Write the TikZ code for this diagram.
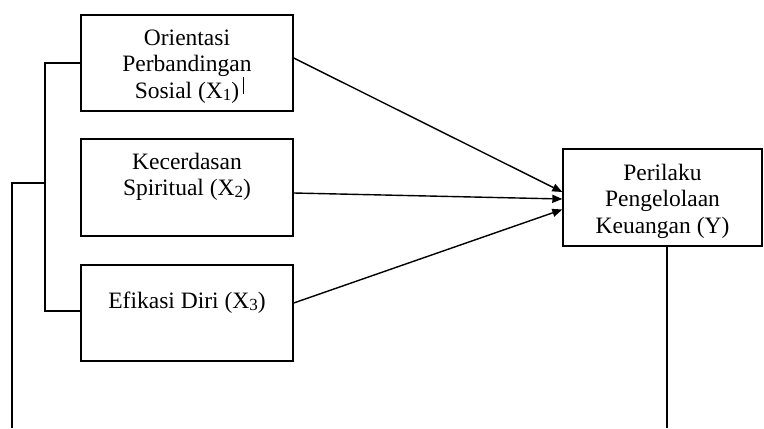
\documentclass[tikz,border=0pt]{standalone}
\usepackage{fontspec}
\setmainfont{Liberation Serif}
\usetikzlibrary{arrows.meta,positioning}
\newcommand{\xsub}[1]{\raisebox{-0.1em}{\fontsize{8.5}{8.5}\selectfont #1}}

\begin{document}
\begin{tikzpicture}[x=0.5pt,y=-0.5pt,
    varbox/.style={draw,line width=0.7pt,minimum width=106pt,minimum height=48pt,inner sep=0pt},
    boxtext/.style={anchor=north,align=center,inner sep=0pt,font=\fontsize{11.75}{13.25}\selectfont},
    link/.style={line width=0.7pt},
    arrowlink/.style={line width=0.7pt,-{Triangle[length=5pt,width=4pt]}}]
\useasboundingbox (0,0) rectangle (764,428);

% Drawing boxes X1 X2 X3 Y
\node[varbox] (x1) at (187,63) {};%
\node[varbox,minimum height=48.5pt] (x2) at (187,187.5) {};%
\node[varbox] (x3) at (187,313) {};%
\node[varbox,minimum width=99.5pt,minimum height=48.5pt] (y) at (662.5,197.5) {};%

% Marking texts of the boxes
\node[boxtext] (x1text) at ([yshift=-7.5pt]x1.north) {Orientasi\\Perbandingan\\Sosial (X\xsub{1})};%
\node[boxtext] (x2text) at ([yshift=-7pt]x2.north) {Kecerdasan\\Spiritual (X\xsub{2})};%
\node[boxtext] (x3text) at ([yshift=-13.5pt]x3.north) {Efikasi Diri (X\xsub{3})};%
\node[boxtext] (ytext) at ([yshift=-7.5pt]y.north) {Perilaku\\Pengelolaan\\Keuangan (Y)};%

% Drawing arrows X -> Y
\draw[arrowlink] ([yshift=2.5pt]x1.east) -- ([yshift=2.75pt]y.west);%
\draw[arrowlink] ([yshift=-2.75pt]x2.east) -- ([yshift=-0.75pt]y.west);%
\draw[arrowlink] ([yshift=5pt]x3.east) -- ([yshift=-6pt]y.west);%

% Drawing brackets
\coordinate (brk) at (45,0);
\coordinate (outjoin) at (45,183);
\coordinate (outend) at (12,428);
\coordinate (yend) at (667,428);
\draw[link] (x1.west) -- (x1.west -| brk) |- ([yshift=1pt]x3.west);%
\draw[link] (outjoin) -| (outend);%
\draw[link] (y.south -| yend) -- (yend);%

% Drawing tick in X1
\draw[line width=0.5pt] (243,77) -- (243,94);%
\end{tikzpicture}
\end{document}
